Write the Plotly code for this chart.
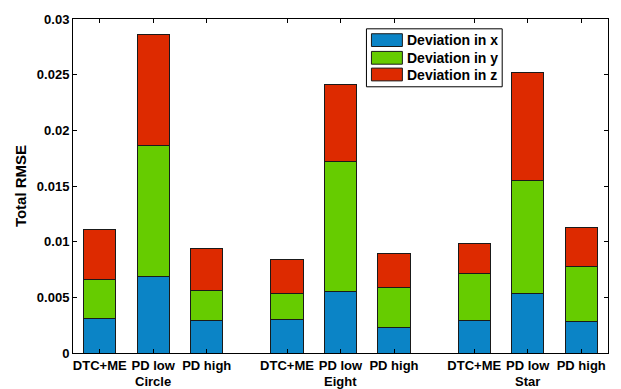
import plotly.graph_objects as go

# Trajectory groups and controller variants
groups = ["Circle", "Eight", "Star"]
variants = ["DTC+ME", "PD low", "PD high"]

# RMSE components per bar (Circle x3, Eight x3, Star x3)
dev_x = [0.0031, 0.0069, 0.0029, 0.0030, 0.0055, 0.0023, 0.0029, 0.0053, 0.0028]
dev_y = [0.0035, 0.0117, 0.0027, 0.0023, 0.0117, 0.0036, 0.0042, 0.0102, 0.0050]
dev_z = [0.0045, 0.0100, 0.0038, 0.0031, 0.0069, 0.0030, 0.0027, 0.0097, 0.0035]

# y axis ticks
y_ticks = [0, 0.005, 0.01, 0.015, 0.02, 0.025, 0.03]
y_tick_text = ["0", "0.005", "0.01", "0.015", "0.02", "0.025", "0.03"]

series_names = ["Deviation in x", "Deviation in y", "Deviation in z"]
series_colors = ["#0B84C6", "#66CC00", "#DD2A00"]

# bar positions: three bars per group, 1.5 spacing between groups
positions = []
for g in range(len(groups)):
    start = 1 + g * 3.5
    positions += [start, start + 1, start + 2]
tick_text = variants * len(groups)
group_centers = [1 + g * 3.5 + 1 for g in range(len(groups))]

FONT = "Liberation Sans, Arial, sans-serif"

fig = go.Figure()
for name, vals, col in zip(series_names, [dev_x, dev_y, dev_z], series_colors):
    fig.add_trace(go.Bar(
        x=positions, y=vals, name=name, width=0.6,
        marker=dict(color=col, line=dict(color="#1a1a1a", width=1)),
        showlegend=False,
    ))

x0, x1 = 0.5, 10.5
fig.update_layout(
    width=621, height=389,
    margin=dict(l=73, r=12, t=13, b=36),
    barmode="stack",
    paper_bgcolor="white", plot_bgcolor="white",
    font=dict(family=FONT, size=13, color="black"),
    xaxis=dict(
        range=[x0, x1], tickvals=positions, ticktext=["<b>%s</b>" % t for t in tick_text],
        ticks="inside", ticklen=4, tickcolor="black",
        showline=True, linecolor="black", linewidth=1, mirror="ticks",
        showgrid=False, zeroline=False, tickfont=dict(size=13),
    ),
    yaxis=dict(
        range=[0, 0.03], tickvals=y_ticks,
        ticktext=["<b>%s</b>" % t for t in y_tick_text],
        ticks="inside", ticklen=4, tickcolor="black",
        showline=True, linecolor="black", linewidth=1, mirror="ticks",
        showgrid=False, zeroline=False, tickfont=dict(size=13),
        title=dict(text="<b>Total RMSE</b>", font=dict(size=15), standoff=6),
    ),
)

# group names under the variant labels
for gname, gx in zip(groups, group_centers):
    fig.add_annotation(
        x=gx, y=0, xref="x", yref="paper", yshift=-28,
        text="<b>%s</b>" % gname, showarrow=False,
        font=dict(size=13, family=FONT), yanchor="middle",
    )

# legend box with swatches (pixel layout converted to paper coords)
W, H = 536.0, 340.0
def px(x):
    return (x - 73) / W
def py(y):
    return (353 - y) / H

fig.add_shape(type="rect", xref="paper", yref="paper",
              x0=px(367), x1=px(503), y0=py(82), y1=py(23),
              line=dict(color="black", width=1), fillcolor="white", layer="above")
row_tops = [28, 46, 63]
for name, col, top in zip(series_names, series_colors, row_tops):
    fig.add_shape(type="rect", xref="paper", yref="paper",
                  x0=px(372), x1=px(403), y0=py(top + 13), y1=py(top),
                  line=dict(color="#1a1a1a", width=1), fillcolor=col, layer="above")
    fig.add_annotation(x=px(406), y=py(top + 6.5), xref="paper", yref="paper",
                       text="<b>%s</b>" % name, showarrow=False,
                       xanchor="left", yanchor="middle",
                       font=dict(size=14, family=FONT))

fig.write_html("out.html")
